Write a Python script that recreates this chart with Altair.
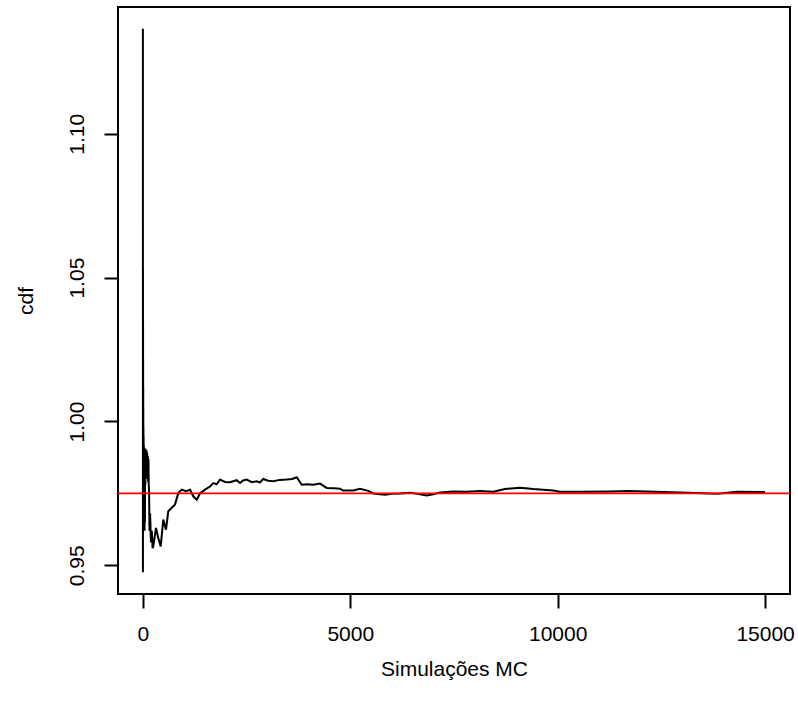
import altair as alt
import pandas as pd

# Monte Carlo running estimate
sims = [1, 2, 3, 4, 5, 6, 7, 8, 9, 10, 11, 12, 14, 16, 18, 20, 22, 25, 28, 31,
        35, 40, 45, 50, 55, 60, 65, 72, 78, 84, 90, 97, 105, 112, 120, 127,
        135, 142, 150, 160, 175, 195, 215, 235, 252, 317, 372, 430, 493, 558, 613, 695, 775,
        854, 936, 1040, 1138, 1216, 1298, 1378, 1498, 1619, 1698, 1780, 1859, 1980, 2100,
        2262, 2342, 2420, 2503, 2624, 2744, 2820, 2903, 3020, 3145, 3300, 3467, 3600, 3709,
        3829, 3960, 4109, 4270, 4432, 4600, 4752, 4832, 5073, 5234, 5434, 5555, 5837, 6000,
        6199, 6440, 6650, 6842, 7000, 7163, 7483, 7800, 8127, 8448, 8730, 9092, 9412, 9894,
        10056, 10538, 11261, 11700, 12145, 12948, 13671, 13864, 14315, 15000]
cdf = [1.1365, 0.9476, 1.0530, 0.9900, 1.0350, 0.9750, 1.0220, 0.9850, 1.0120, 0.9720,
       1.0050, 0.9800, 0.9980, 0.9650, 0.9950, 0.9700, 0.9920, 0.9640, 0.9900, 0.9700,
       0.9910, 0.9620, 0.9895, 0.9650, 0.9890, 0.9780, 0.9905, 0.9800, 0.9895, 0.9820,
       0.9900, 0.9810, 0.9890, 0.9800, 0.9880, 0.9790,
       0.9870, 0.9780, 0.9760, 0.9620, 0.9680, 0.9580, 0.9620, 0.9560, 0.9566, 0.9630, 0.9595,
       0.9566, 0.9659, 0.9624, 0.9688, 0.9700, 0.9711, 0.9751, 0.9763, 0.9758, 0.9763,
       0.9740, 0.9728, 0.9750, 0.9763, 0.9774, 0.9786, 0.9782, 0.9798, 0.9790, 0.9789,
       0.9796, 0.9786, 0.9795, 0.9798, 0.9789, 0.9792, 0.9788, 0.9800, 0.9794, 0.9792,
       0.9797, 0.9798, 0.9800, 0.9806, 0.9780, 0.9782, 0.9780, 0.9784, 0.9769, 0.9768,
       0.9766, 0.9760, 0.9760, 0.9766, 0.9759, 0.9750, 0.9745, 0.9749, 0.9750, 0.9752,
       0.9748, 0.9743, 0.9747, 0.9753, 0.9757, 0.9756, 0.9758, 0.9756, 0.9765, 0.9770,
       0.9765, 0.9760, 0.9756, 0.9756, 0.9757, 0.9758, 0.9757, 0.9753, 0.9750, 0.9749,
       0.9756, 0.9755]
ref_value = [0.975]
x_ticks = [0, 5000, 10000, 15000]
y_ticks = [0.95, 1.00, 1.05, 1.10]

df = pd.DataFrame({"sim": sims, "cdf": cdf})
ref = pd.DataFrame({"ref": ref_value})

FONT = "Liberation Sans"

x_scale = alt.Scale(domain=[-598.96, 15599.96], nice=False, zero=False)
y_scale = alt.Scale(domain=[0.94004, 1.14406], nice=False, zero=False)

x_axis = alt.Axis(values=x_ticks, format="d", title="Simulações MC", grid=False,
                  domain=False, ticks=True, tickSize=14, tickWidth=2, tickColor="black",
                  labelFont=FONT, labelFontSize=21, labelColor="black",
                  labelBaseline="alphabetic", labelPadding=32, labelFlush=False,
                  titleFont=FONT, titleFontSize=21, titleFontWeight="normal",
                  titleColor="black", titleBaseline="alphabetic", titleX=336, titleY=81,
                  titleAlign="center")
y_axis = alt.Axis(values=y_ticks, format=".2f", title="cdf", grid=False,
                  domain=False, ticks=True, tickSize=14, tickWidth=2, tickColor="black",
                  labelFont=FONT, labelFontSize=21, labelColor="black",
                  labelAngle=270, labelAlign="center", labelBaseline="alphabetic",
                  labelPadding=21, labelFlush=False,
                  titleFont=FONT, titleFontSize=21, titleFontWeight="normal",
                  titleColor="black", titleAngle=270, titleBaseline="alphabetic",
                  titleAlign="center", titleX=-86, titleY=293.5)

line = alt.Chart(df).mark_line(color="black", strokeWidth=2).encode(
    x=alt.X("sim:Q", scale=x_scale, axis=x_axis),
    y=alt.Y("cdf:Q", scale=y_scale, axis=y_axis),
)
rule = alt.Chart(ref).mark_rule(color="#ff0000", strokeWidth=1.6).encode(
    y=alt.Y("ref:Q", scale=y_scale)
)

chart = alt.layer(line, rule).properties(
    width=672, height=587,
    background="white",
    autosize=alt.AutoSizeParams(type="none"),
    padding={"left": 118, "top": 7, "right": 8, "bottom": 115},
).configure_view(stroke="black", strokeWidth=2, fill="white")

chart.save("out.html", embed_options={"renderer": "svg", "actions": False})
